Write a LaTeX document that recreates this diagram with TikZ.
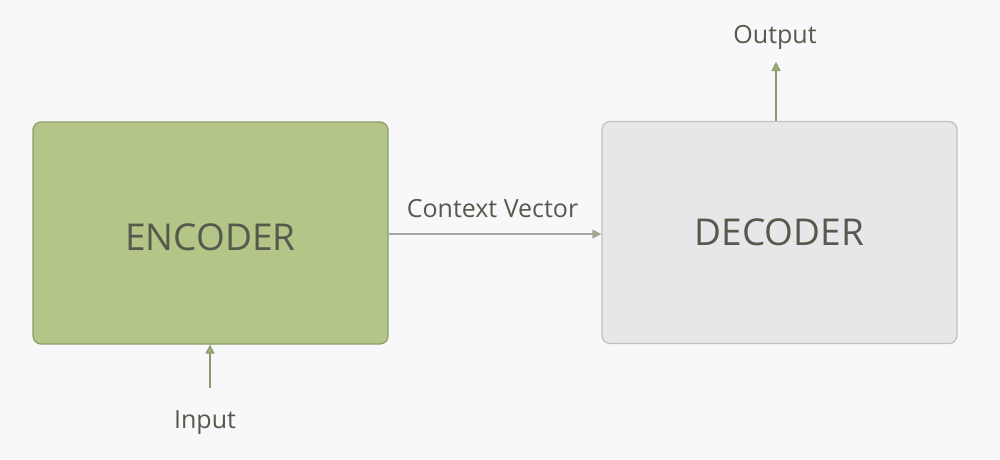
\documentclass[tikz,border=0pt]{standalone}
\usepackage{fontspec}
\setmainfont{Open Sans}
\usetikzlibrary{arrows.meta}
\definecolor{bg}{HTML}{F8F8FA}
\definecolor{encfill}{HTML}{B3C587}
\definecolor{encdraw}{HTML}{8D9C6A}
\definecolor{decfill}{HTML}{E9E6E9}
\definecolor{decdraw}{HTML}{C2C0C0}
\definecolor{txt}{HTML}{555A4C}
\definecolor{arr}{HTML}{8C9A70}
\definecolor{arrfill}{HTML}{9CB070}
\tikzset{
  box/.style={rounded corners=8pt, line width=1.2pt, minimum width=355pt, minimum height=222pt, inner sep=0pt, text=txt, font=\fontsize{37}{40}\selectfont},
  lbl/.style={text=txt, font=\fontsize{25}{28}\selectfont, inner sep=0pt, anchor=base},
  conn/.style={line width=1.2pt, draw=arr, -{Triangle[length=9pt,width=9pt,fill=arrfill]}},
}
\begin{document}
\begin{tikzpicture}[x=1pt,y=-1pt]
\fill[bg] (0,0) rectangle (1000,459);
\useasboundingbox (0,0) rectangle (1000,459);
\node[box, draw=encdraw, fill=encfill] (enc) at (210.5,233) {\raisebox{-4pt}[\height][0pt]{ENCODER}};
\node[box, draw=decdraw, fill=decfill] (dec) at (779.5,232.5) {DECODER};
\node[lbl] (ctx) at (492.5,217.5) {Context Vector};
\node[lbl] (in) at (205,428.5) {Input};
\node[lbl] (out) at (775,43.5) {Output};
\coordinate (inS) at (210,388);
\draw[conn] (inS) -- (enc.south -| inS);
\draw[conn, draw=gray!70] (enc.east |- 0,234) -- (dec.west |- 0,234);
\coordinate (outE) at (776,62);
\draw[conn] (dec.north -| outE) -- (outE);
\end{tikzpicture}
\end{document}
